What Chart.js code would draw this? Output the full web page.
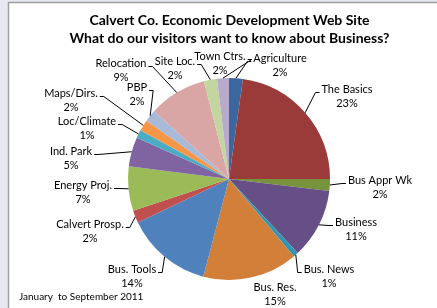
<!DOCTYPE html>
<html>
<head>
<meta charset="utf-8">
<script src="https://cdn.jsdelivr.net/npm/chart.js"></script>
<style>
  html, body { margin: 0; padding: 0; background: #fff; }
  canvas { display: block; }
</style>
</head>
<body>
<canvas id="chartVisitors" width="437" height="308"></canvas>
<script>
const topics = ['Agriculture', 'The Basics', 'Bus Appr Wk', 'Business', 'Bus. News', 'Bus. Res.', 'Bus. Tools',
    'Calvert Prosp.', 'Energy Proj.', 'Ind. Park', 'Loc/Climate', 'Maps/Dirs.', 'PBP', 'Relocation', 'Site Loc.', 'Town Ctrs.'];
const shares = [2.2, 22.8, 1.9, 11.2, 0.8, 15.2, 13.8, 2.0, 7.1, 4.7, 1.3, 1.8, 1.9, 9.3, 2.1, 1.9];
const sliceColors = ['#3c679e', '#9b3b39', '#77933c', '#664f87', '#2f97b1', '#d27f3a', '#4f81bd', '#c0504d',
    '#9bbb59', '#8064a2', '#4bacc6', '#f79646', '#a9bad8', '#d9a6a5', '#c4d6a0', '#b8aacb'];
const titleLines = ['Calvert Co. Economic Development Web Site', 'What do our visitors want to know about Business?'];
const footnote = 'January  to September 2011';

// where each label sits (centre of its first line), measured from the pie centre
const labelSpots = [[51, -121], [118, -90], [151, 1], [127, 43], [100, 90], [46, 108], [-97, 90], [-139, 45],
    [-146, 6], [-158, -28], [-142, -58], [-158, -86], [-92, -92], [-108, -116], [-54, -118], [-9, -123]];
const noLeader = ['Bus. Res.'];

const labelFont = "11px Lato, 'Open Sans', sans-serif";

const pieDecor = {
    id: 'pieDecor',
    beforeDraw(chart) {
        const { ctx, width, height } = chart;
        ctx.save();
        ctx.fillStyle = '#ffffff';
        ctx.fillRect(0, 0, width, height);
        ctx.fillStyle = '#e6e9f1';
        ctx.fillRect(0, 0, 8, height);
        ctx.fillRect(0, 0, width, 2);
        ctx.strokeStyle = '#a0a0a0';
        ctx.lineWidth = 1.5;
        ctx.beginPath();
        ctx.moveTo(8.5, height);
        ctx.lineTo(8.5, 2.5);
        ctx.lineTo(width, 2.5);
        ctx.stroke();
        ctx.restore();
    },
    afterDraw(chart) {
        const { ctx } = chart;
        const arcs = chart.getDatasetMeta(0).data;
        const total = shares.reduce((a, b) => a + b, 0);

        ctx.save();
        // title
        ctx.fillStyle = '#000';
        ctx.textAlign = 'center';
        ctx.textBaseline = 'middle';
        ctx.font = "bold 14px Lato, 'Open Sans', sans-serif";
        titleLines.forEach((line, i) => ctx.fillText(line, 229.5, 20 + i * 18));

        // footnote
        ctx.textAlign = 'left';
        ctx.font = "10px Lato, 'Open Sans', sans-serif";
        ctx.fillText(footnote, 19, 297);

        // slice labels + leader lines
        ctx.font = labelFont;
        ctx.strokeStyle = '#000';
        ctx.lineWidth = 1;
        arcs.forEach((arc, i) => {
            const mid = (arc.startAngle + arc.endAngle) / 2;
            const ex = arc.x + arc.outerRadius * Math.cos(mid);
            const ey = arc.y + arc.outerRadius * Math.sin(mid);
            const lx = arc.x + labelSpots[i][0];
            const ly = arc.y + labelSpots[i][1];
            const w = ctx.measureText(topics[i]).width;

            ctx.textAlign = 'center';
            ctx.fillText(topics[i], lx, ly);
            ctx.fillText(Math.round(shares[i] / total * 100) + '%', lx, ly + 14);

            if (noLeader.includes(topics[i])) return;
            let sx, kx;
            if (lx < ex) { sx = lx + w / 2 + 2; kx = sx + 4; }
            else { sx = lx - w / 2 - 2; kx = sx - 4; }
            const sy = Math.round(ly + 3) + 0.5;
            ctx.beginPath();
            ctx.moveTo(sx, sy);
            ctx.lineTo(kx, sy);
            ctx.lineTo(ex, ey);
            ctx.stroke();
        });
        ctx.restore();
    }
};

new Chart(document.getElementById('chartVisitors').getContext('2d'), {
    type: 'pie',
    data: {
        labels: topics,
        datasets: [{
            data: shares,
            backgroundColor: sliceColors,
            borderWidth: 0,
            hoverOffset: 0,
            hoverBorderWidth: 0
        }]
    },
    options: {
        responsive: false,
        animation: false,
        events: [],
        layout: { padding: { left: 128, right: 107, top: 78, bottom: 28 } },
        plugins: {
            legend: { display: false },
            title: { display: false },
            tooltip: { enabled: false }
        }
    },
    plugins: [pieDecor]
});
</script>
</body>
</html>
